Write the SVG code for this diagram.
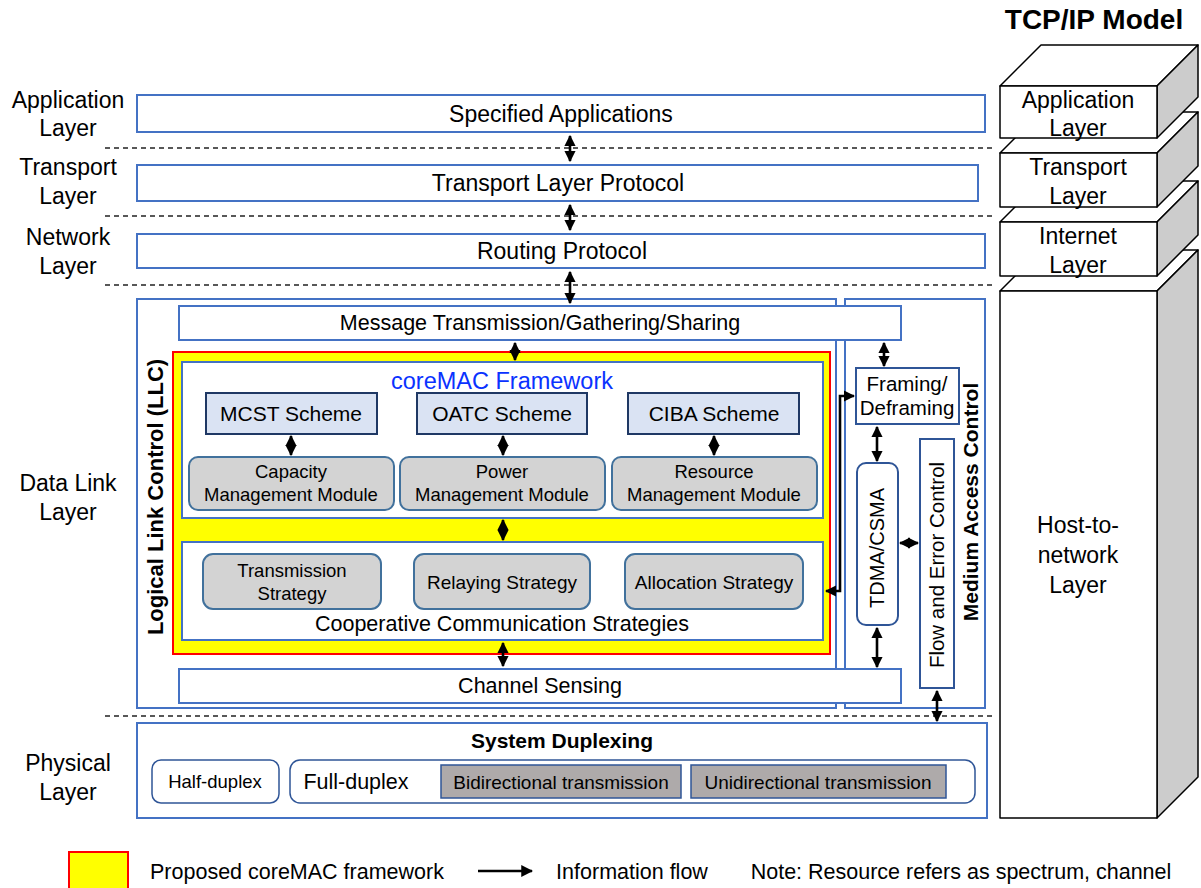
<svg xmlns="http://www.w3.org/2000/svg" width="1201" height="888" viewBox="0 0 1201 888">
<style>
text{font-family:"Liberation Sans",Arial,sans-serif;fill:#000;text-anchor:middle}
.b{font-weight:bold}
.box{fill:#fff;stroke:#4472C4;stroke-width:2}
.sch{fill:#DAE3F3;stroke:#1F3864;stroke-width:2}
.mod{fill:#D3D3D3;stroke:#41719C;stroke-width:2}
.phy{fill:#AEAAAA;stroke:#2F5597;stroke-width:1.5}
.rnd{fill:#fff;stroke:#2F5597;stroke-width:1.5}
.dash{stroke:#222;stroke-width:1.3;stroke-dasharray:5,4;fill:none}
.arr{stroke:#000;stroke-width:2.6;fill:none;marker-start:url(#h);marker-end:url(#h)}
.top{fill:#fff;stroke:#000;stroke-width:1.5;stroke-linejoin:round}
.side{fill:#CCCCCC;stroke:#000;stroke-width:1.5;stroke-linejoin:round}
</style>
<defs>
<marker id="h" viewBox="0 0 10 10" refX="9" refY="5" markerWidth="4.4" markerHeight="4.4" orient="auto-start-reverse" markerUnits="strokeWidth">
<path d="M0,0 L10,5 L0,10 Z" fill="#000"/>
</marker>
<marker id="h1" viewBox="0 0 10 10" refX="9" refY="5" markerWidth="4.6" markerHeight="4.6" orient="auto" markerUnits="strokeWidth">
<path d="M0,0 L10,5 L0,10 Z" fill="#000"/>
</marker>
</defs>
<rect width="1201" height="888" fill="#fff"/>

<!-- dashed layer separators -->
<g id="separators">
<line class="dash" x1="105" y1="148" x2="995" y2="148"/>
<line class="dash" x1="105" y1="216" x2="995" y2="216"/>
<line class="dash" x1="105" y1="285" x2="995" y2="285"/>
<line class="dash" x1="105" y1="716" x2="995" y2="716"/>
</g>

<!-- left layer labels -->
<g id="layer-labels" font-size="23">
<text x="68" y="108">Application</text><text x="68" y="136">Layer</text>
<text x="68" y="175">Transport</text><text x="68" y="204">Layer</text>
<text x="68" y="245">Network</text><text x="68" y="274">Layer</text>
<text x="68" y="491">Data Link</text><text x="68" y="520">Layer</text>
<text x="68" y="771">Physical</text><text x="68" y="800">Layer</text>
</g>

<g id="specified-apps"><rect class="box" x="137" y="95" width="848" height="37"/><text x="561" y="122" font-size="23">Specified Applications</text></g>
<g id="transport-protocol"><rect class="box" x="137" y="165" width="841" height="36"/><text x="558" y="191" font-size="23">Transport Layer Protocol</text></g>
<g id="routing-protocol"><rect class="box" x="137" y="234" width="848" height="34"/><text x="562" y="259" font-size="23">Routing Protocol</text></g>

<g id="llc"><rect class="box" x="137" y="299" width="699" height="409"/>
<text class="b" font-size="22" transform="translate(163,497) rotate(-90)">Logical Link Control (LLC)</text></g>
<g id="mac"><rect class="box" x="845" y="299" width="140" height="409"/>
<text class="b" font-size="21" transform="translate(978,502) rotate(-90)">Medium Access Control</text></g>

<g id="message"><rect class="box" x="179" y="306" width="722" height="34"/><text x="540" y="330" font-size="21.5">Message Transmission/Gathering/Sharing</text></g>

<g id="coremac-framework">
<rect x="173" y="352" width="657" height="302" fill="#FFFF00" stroke="#FF0000" stroke-width="2"/>
<rect class="box" x="182" y="362" width="641" height="156"/>
<text x="502" y="389" font-size="23.5" style="fill:#0A32FF">coreMAC Framework</text>
</g>
<g id="mcst"><rect class="sch" x="206" y="393" width="171" height="41"/><text x="291" y="421" font-size="21">MCST Scheme</text></g>
<g id="oatc"><rect class="sch" x="417" y="393" width="170" height="41"/><text x="502" y="421" font-size="21">OATC Scheme</text></g>
<g id="ciba"><rect class="sch" x="628" y="393" width="171" height="41"/><text x="714" y="421" font-size="21">CIBA Scheme</text></g>
<g id="capacity"><rect class="mod" x="189" y="457" width="205" height="53" rx="9"/><text x="291" y="478" font-size="18.5">Capacity</text><text x="291" y="501" font-size="18.5">Management Module</text></g>
<g id="power"><rect class="mod" x="400" y="457" width="205" height="53" rx="9"/><text x="502" y="478" font-size="18.5">Power</text><text x="502" y="501" font-size="18.5">Management Module</text></g>
<g id="resource"><rect class="mod" x="612" y="457" width="205" height="53" rx="9"/><text x="714" y="478" font-size="18.5">Resource</text><text x="714" y="501" font-size="18.5">Management Module</text></g>

<g id="coop"><rect class="box" x="182" y="542" width="641" height="98"/><text x="502" y="631" font-size="21.5">Cooperative Communication Strategies</text></g>
<g id="transmission"><rect class="mod" x="203" y="554" width="178" height="55" rx="10"/><text x="292" y="577" font-size="18.5">Transmission</text><text x="292" y="600" font-size="18.5">Strategy</text></g>
<g id="relaying"><rect class="mod" x="414" y="554" width="176" height="55" rx="10"/><text x="502" y="589" font-size="19">Relaying Strategy</text></g>
<g id="allocation"><rect class="mod" x="625" y="554" width="178" height="55" rx="10"/><text x="714" y="589" font-size="19">Allocation Strategy</text></g>

<g id="channel-sensing"><rect class="box" x="179" y="669" width="722" height="34"/><text x="540" y="693" font-size="21.5">Channel Sensing</text></g>

<g id="framing"><rect fill="#fff" stroke="#2F5597" stroke-width="2" x="856" y="368" width="103" height="56"/><text x="907" y="391" font-size="20.5">Framing/</text><text x="907" y="415" font-size="20.5">Deframing</text></g>
<g id="tdma"><rect fill="#fff" stroke="#2F5597" stroke-width="2" x="857" y="463" width="41" height="162" rx="9"/><text font-size="20" transform="translate(884,548) rotate(-90)">TDMA/CSMA</text></g>
<g id="flow-error"><rect fill="#fff" stroke="#2F5597" stroke-width="2" x="920" y="439" width="34" height="249"/><text font-size="20.5" transform="translate(944,565) rotate(-90)">Flow and Error Control</text></g>

<g id="physical">
<rect class="box" x="137" y="723" width="850" height="95"/>
<text class="b" x="562" y="748" font-size="21">System Duplexing</text>
</g>
<g id="half-duplex"><rect class="rnd" x="152" y="760" width="127" height="43" rx="9"/><text x="215" y="788" font-size="18.5">Half-duplex</text></g>
<g id="full-duplex"><rect class="rnd" x="290" y="760" width="685" height="43" rx="10"/><text x="356" y="789" font-size="21.5">Full-duplex</text></g>
<g id="bidirectional"><rect class="phy" x="441" y="765" width="240" height="33"/><text x="561" y="789" font-size="19">Bidirectional transmission</text></g>
<g id="unidirectional"><rect class="phy" x="691" y="765" width="255" height="33"/><text x="818" y="789" font-size="19">Unidirectional transmission</text></g>

<!-- TCP/IP model (drawn back to front) -->
<g id="tcpip-title"><text class="b" x="1094" y="29" font-size="28">TCP/IP Model</text></g>
<g id="tcp-host">
<polygon class="top" points="1000,291 1041,250 1198,250 1157,291"/>
<polygon class="side" points="1157,291 1198,250 1198,777 1157,818"/>
<rect class="top" x="1000" y="291" width="157" height="527"/>
<text x="1078" y="533" font-size="23">Host-to-</text><text x="1078" y="563" font-size="23">network</text><text x="1078" y="593" font-size="23">Layer</text>
</g>
<g id="tcp-internet">
<polygon class="top" points="1000,222 1041,181 1198,181 1157,222"/>
<polygon class="side" points="1157,222 1198,181 1198,235 1157,276"/>
<rect class="top" x="1000" y="222" width="157" height="54"/>
<text x="1078" y="244" font-size="23">Internet</text><text x="1078" y="273" font-size="23">Layer</text>
</g>
<g id="tcp-transport">
<polygon class="top" points="1000,153 1041,112 1198,112 1157,153"/>
<polygon class="side" points="1157,153 1198,112 1198,166 1157,207"/>
<rect class="top" x="1000" y="153" width="157" height="54"/>
<text x="1078" y="175" font-size="23">Transport</text><text x="1078" y="204" font-size="23">Layer</text>
</g>
<g id="tcp-application">
<polygon class="top" points="1000,86 1041,45 1198,45 1157,86"/>
<polygon class="side" points="1157,86 1198,45 1198,97 1157,138"/>
<rect class="top" x="1000" y="86" width="157" height="52"/>
<text x="1078" y="108" font-size="23">Application</text><text x="1078" y="136" font-size="23">Layer</text>
</g>

<!-- connectors -->
<g id="connectors">
<line class="arr" x1="570" y1="136" x2="570" y2="161"/>
<line class="arr" x1="570" y1="205" x2="570" y2="230"/>
<line class="arr" x1="570" y1="272" x2="570" y2="303"/>
<line class="arr" x1="515" y1="343" x2="515" y2="360"/>
<line class="arr" x1="291" y1="436" x2="291" y2="455"/>
<line class="arr" x1="503" y1="436" x2="503" y2="455"/>
<line class="arr" x1="714" y1="436" x2="714" y2="455"/>
<line class="arr" x1="503" y1="520" x2="503" y2="540"/>
<line class="arr" x1="503" y1="643" x2="503" y2="666"/>
<line class="arr" x1="884" y1="343" x2="884" y2="366"/>
<line class="arr" x1="877" y1="427" x2="877" y2="461"/>
<line class="arr" x1="877" y1="628" x2="877" y2="667"/>
<line class="arr" x1="900" y1="543" x2="918" y2="543"/>
<line class="arr" x1="937" y1="691" x2="937" y2="721"/>
<polyline class="arr" points="826,591 840,591 840,396 854,396"/>
</g>

<!-- legend -->
<g id="legend">
<rect x="69" y="852" width="59" height="40" fill="#FFFF00" stroke="#FF0000" stroke-width="2"/>
<text x="297" y="879" font-size="21.5">Proposed coreMAC framework</text>
<line x1="478" y1="871" x2="532" y2="871" stroke="#000" stroke-width="2.6" marker-end="url(#h1)"/>
<text x="632" y="879" font-size="21.5">Information flow</text>
<text x="961" y="879" font-size="21.5">Note: Resource refers as spectrum, channel</text>
</g>
</svg>
